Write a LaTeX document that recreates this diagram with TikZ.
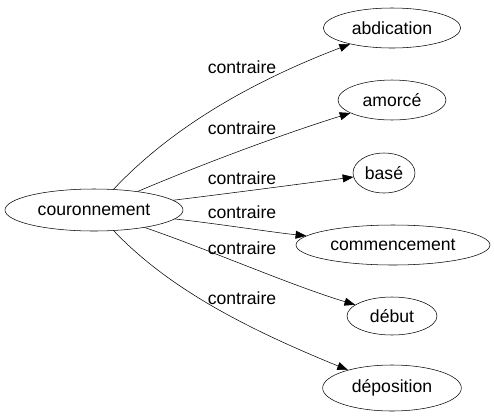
\documentclass[tikz,border=0pt]{standalone}
\usepackage{fontspec}
\setmainfont{Liberation Sans}
\usetikzlibrary{arrows.meta, shapes.geometric}

\begin{document}
\begin{tikzpicture}[x=0.75pt, y=-0.75pt, >={Triangle[length=8pt, width=6pt]},
  word/.style={draw, ellipse, inner sep=0pt, font=\fontsize{13.2}{15}\selectfont},
  lbl/.style={font=\fontsize{13.2}{15}\selectfont, inner sep=0pt},
  edge/.style={->, thin}]
  \useasboundingbox (0,0) rectangle (494,419);
  % Nodes (sizes in pt)
  \node[word, minimum width=133.5pt, minimum height=31.5pt] (cour) at (94,210) {couronnement};
  \node[word, minimum width=103pt, minimum height=30pt] (abd) at (392,28) {abdication};
  \node[word, minimum width=81pt, minimum height=30pt] (amo) at (392,100) {amorcé};
  \node[word, minimum width=46.5pt, minimum height=30pt] (bas) at (384,173) {basé};
  \node[word, minimum width=145.5pt, minimum height=30pt] (com) at (393,245) {commencement};
  \node[word, minimum width=67.5pt, minimum height=28.5pt] (deb) at (392,316) {début};
  \node[word, minimum width=104pt, minimum height=34.5pt] (dep) at (392,388) {déposition};
  % Edges
  \draw[edge] (cour) .. controls (160,140) and (230,90) .. (abd);
  \draw[edge] (cour) .. controls (200,165) and (280,135) .. (amo);
  \draw[edge] (cour) .. controls (240,192) and (300,184) .. (bas);
  \draw[edge] (cour) .. controls (220,224) and (270,232) .. (com);
  \draw[edge] (cour) .. controls (210,250) and (290,285) .. (deb);
  \draw[edge] (cour) .. controls (170,290) and (250,330) .. (dep);
  % Labels
  \foreach \y/\n in {67/la, 128/lb, 178/lc, 212/ld, 248/le, 298/lf}
    \node[lbl] (\n) at (242,\y) {contraire};
\end{tikzpicture}
\end{document}
